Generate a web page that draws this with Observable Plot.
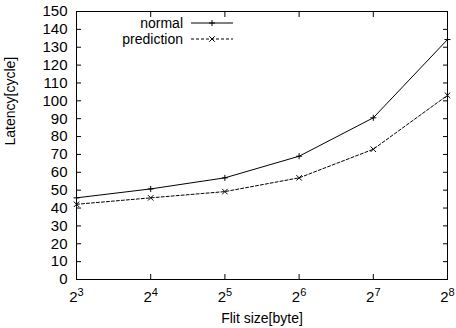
<!DOCTYPE html>
<html><head><meta charset="utf-8">
<script src="https://cdn.jsdelivr.net/npm/d3@7"></script>
<script src="https://cdn.jsdelivr.net/npm/@observablehq/plot@0.6"></script>
<style>
body{margin:0;background:#fff}
#chart svg{font-family:"Liberation Sans",Arial,Helvetica,sans-serif;display:block}
</style>
</head><body><div id="chart"></div>
<script>
const flitSizes = [8, 16, 32, 64, 128, 256];
const normal = [45.7, 50.7, 56.9, 69.0, 90.5, 134.3];
const prediction = [42.1, 45.7, 49.2, 56.9, 72.9, 103.1];
const seriesNames = ["normal", "prediction"];
const yTicks = [0,10,20,30,40,50,60,70,80,90,100,110,120,130,140,150];
const xLabel = "Flit size[byte]";
const yLabel = "Latency[cycle]";

const rows = [
  ...flitSizes.map((x, i) => ({x, y: normal[i], s: seriesNames[0]})),
  ...flitSizes.map((x, i) => ({x, y: prediction[i], s: seriesNames[1]}))
];
const rowsN = rows.filter(d => d.s === seriesNames[0]);
const rowsP = rows.filter(d => d.s === seriesNames[1]);

const svg = Plot.plot({
  width: 456, height: 328,
  marginLeft: 76, marginRight: 9, marginTop: 11, marginBottom: 49,
  style: {fontFamily: '"Liberation Sans",Arial,sans-serif', fontSize: "14px", color: "#000", background: "#fff", overflow: "visible"},
  x: {type: "log", base: 2, domain: [8, 256]},
  y: {domain: [0, 150]},
  marks: [
    Plot.axisX({ticks: flitSizes, tickSize: -5, tickFormat: () => "", label: null}),
    Plot.axisX({anchor: "top", ticks: flitSizes, tickSize: -5, tickFormat: () => "", label: null}),
    Plot.axisX({ticks: flitSizes, tickSize: 0, tickPadding: 12, tickFormat: d => "2^" + Math.round(Math.log2(d)), label: null, fontSize: 15, className: "xlab"}),
    Plot.axisY({ticks: yTicks, tickSize: -5, tickFormat: () => "", label: null}),
    Plot.axisY({anchor: "right", ticks: yTicks, tickSize: -5, tickFormat: () => "", label: null}),
    Plot.axisY({ticks: yTicks, tickSize: 0, tickPadding: 9, label: null, fontSize: 15}),
    Plot.frame({stroke: "#000", strokeWidth: 1}),
    Plot.line(rowsN, {x: "x", y: "y", stroke: "#000", strokeWidth: 1}),
    Plot.line(rowsP, {x: "x", y: "y", stroke: "#000", strokeWidth: 1, strokeDasharray: "3,2"}),
    Plot.dot(rowsN, {x: "x", y: "y", symbol: "plus", r: 2.1, stroke: "#000", strokeWidth: 1}),
    Plot.dot(rowsP, {x: "x", y: "y", symbol: "times", r: 2.6, stroke: "#000", strokeWidth: 1}),
    Plot.text([xLabel], {text: d => d, frameAnchor: "bottom", dy: 43, fontSize: 14, fill: "#000"}),
    Plot.text([yLabel], {text: d => d, frameAnchor: "left", dx: -66, rotate: -90, fontSize: 14, fill: "#000"})
  ]
});

// superscript tick labels for x axis
d3.select(svg).selectAll("g.xlab text, g[aria-label='x-axis tick label'] text").each(function() {
  const t = this.textContent;
  if (!t.includes("^")) return;
  const [b, e] = t.split("^");
  const sel = d3.select(this);
  sel.text(null);
  sel.append("tspan").text(b);
  sel.append("tspan").attr("dy", "-0.55em").attr("font-size", "11px").text(e);
});

// legend (inside the plot area, top-left, like gnuplot)
const leg = d3.select(svg).append("g").attr("font-size", 14).attr("fill", "#000");
const sym = (type, r) => d3.symbol(type, Math.PI * r * r)();
const entries = [
  {name: seriesNames[0], dash: null, type: d3.symbolPlus, r: 2.1},
  {name: seriesNames[1], dash: "3,2", type: d3.symbolTimes, r: 2.6}
];
entries.forEach((e, i) => {
  const yy = 23 + i * 16;
  leg.append("text").attr("x", 183).attr("y", yy).attr("dy", "0.35em").attr("text-anchor", "end").text(e.name);
  leg.append("line").attr("x1", 191).attr("x2", 233).attr("y1", yy).attr("y2", yy)
    .attr("stroke", "#000").attr("stroke-dasharray", e.dash);
  leg.append("path").attr("d", sym(e.type, e.r)).attr("transform", `translate(212,${yy})`)
    .attr("fill", "none").attr("stroke", "#000");
});

document.getElementById("chart").appendChild(svg);
</script>
</body></html>
